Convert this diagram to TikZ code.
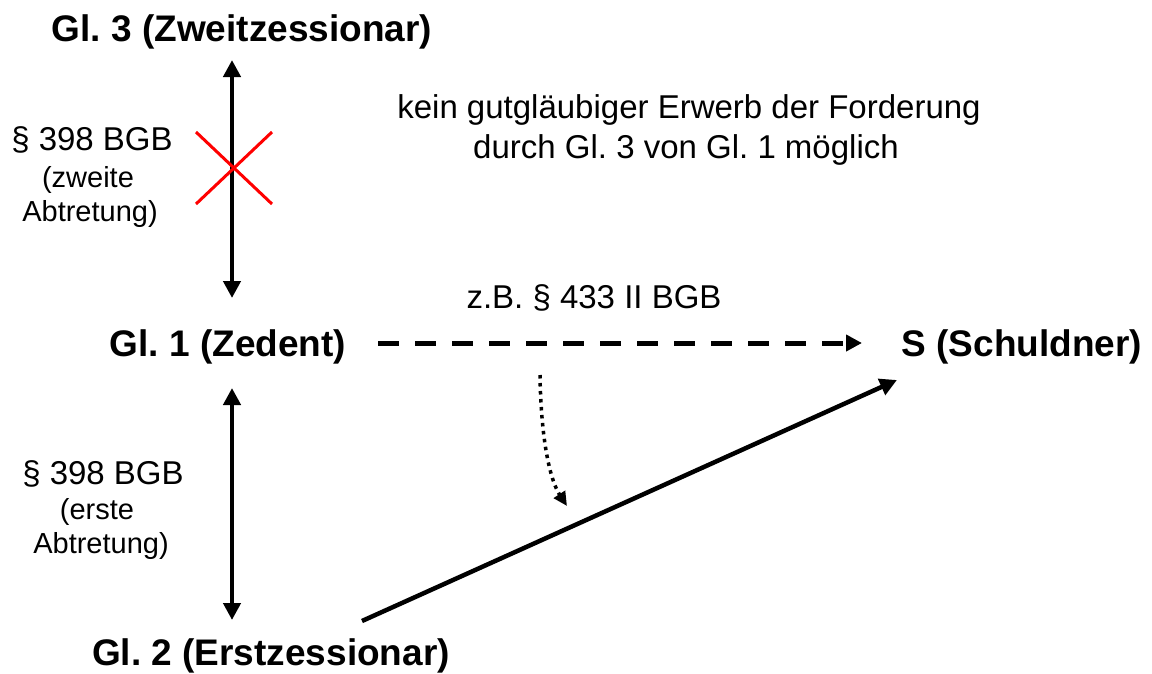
\documentclass[tikz,border=0pt]{standalone}
\usepackage{fontspec}
\setmainfont{Liberation Sans}
\usetikzlibrary{arrows.meta}
\frenchspacing
\begin{document}
\begin{tikzpicture}[x=1pt,y=-1pt,
  party/.style={inner sep=0pt,anchor=base,font=\fontsize{37}{44}\selectfont\bfseries},
  lawbig/.style={inner sep=0pt,anchor=base,font=\fontsize{33}{40}\selectfont},
  lawsmall/.style={inner sep=0pt,anchor=base,font=\fontsize{29}{33}\selectfont},
  thick arrow/.style={line width=4.5pt,-{Triangle[length=17pt,width=17pt]}},
  both arrow/.style={line width=4.5pt,{Triangle[length=17pt,width=17pt]}-{Triangle[length=17pt,width=17pt]}},
  cross/.style={line width=3pt,red}]
\useasboundingbox (0,0) rectangle (1152,673);
% parties
\node[party] (g3) at (242,41) {Gl. 3 (Zweitzessionar)};
\node[party] (g1) at (228,356) {Gl. 1 (Zedent)};
\node[party] (s) at (1022,356) {S (Schuldner)};
\node[party] (g2) at (271,665) {Gl. 2 (Erstzessionar)};
% connector end points
\coordinate (a3) at (232,60);
\coordinate (a1t) at (232,298);
\coordinate (a1b) at (232,388);
\coordinate (a2) at (232,620);
\coordinate (dstart) at (378,343);
\coordinate (dend) at (862,343);
\coordinate (sstart) at (362,621);
\coordinate (send) at (897,380);
\coordinate (ostart) at (540,375);
\coordinate (oend) at (567,506);
% labels
\node[lawbig] (l1) at (92,150) {§ 398 BGB};
\node[lawsmall] (l1b) at (88,187) {(zweite};
\node[lawsmall] (l1c) at (90,221) {Abtretung)};
\node[lawbig] (l2) at (103,484) {§ 398 BGB};
\node[lawsmall] (l2b) at (97,519) {(erste};
\node[lawsmall] (l2c) at (101,553) {Abtretung)};
\node[lawbig] (k1) at (689,118) {kein gutgläubiger Erwerb der Forderung};
\node[lawbig] (k2) at (686,158) {durch Gl. 3 von Gl. 1 möglich};
\node[lawbig] (zb) at (594,308) {z.B. § 433 II BGB};
% arrows
\draw[both arrow] (a3) -- (a1t);
\draw[both arrow] (a1b) -- (a2);
\draw[line width=5pt,dash pattern=on 21pt off 16pt,-{Triangle[length=16pt,width=16pt]}] (dstart) -- (dend);
\draw[thick arrow] (sstart) -- (send);
\draw[line width=3.5pt,dash pattern=on 3.5pt off 4.5pt,-{Triangle[length=14pt,width=13pt]}]
  (ostart) .. controls (541,440) and (550,480) .. (oend);
% red cross
\coordinate (x1) at (196,132);
\coordinate (x2) at (272,204);
\coordinate (x3) at (196,204);
\coordinate (x4) at (272,132);
\draw[cross] (x1) -- (x2);
\draw[cross] (x3) -- (x4);
\end{tikzpicture}
\end{document}
